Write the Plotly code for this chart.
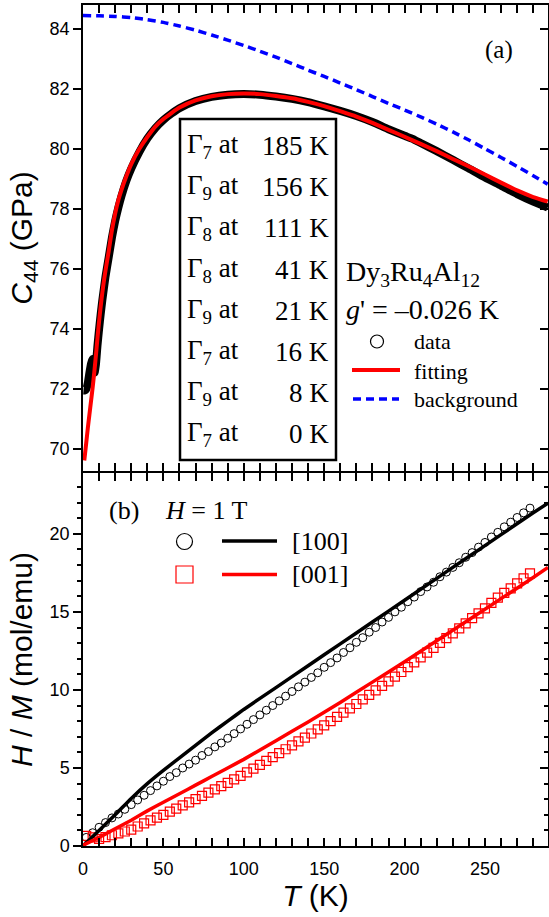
import plotly.graph_objects as go

# ---------------- panel (a): elastic constant C44 of Dy3Ru4Al12 ----------------
t_c44 = [0.3, 1, 2, 3, 4, 5, 5.8, 6.5, 7.2, 8, 9, 10, 11, 12, 14, 16, 18, 20, 22, 24,
         27, 30, 35, 40, 45, 50, 55, 60, 70, 80, 90, 100, 110, 120, 130, 140, 150, 160,
         170, 180, 190, 200, 205, 210, 220, 230, 240, 250, 260, 270, 280, 289]
c44_data = [71.95, 71.95, 72.0, 72.2, 72.55, 72.85, 73.0, 72.7, 72.55, 72.8, 73.45, 74.0,
            74.5, 74.95, 75.75, 76.4, 77.05, 77.6, 78.05, 78.45, 78.95, 79.35, 79.9, 80.35,
            80.7, 80.97, 81.18, 81.36, 81.6, 81.74, 81.81, 81.83, 81.81, 81.75, 81.67, 81.56,
            81.42, 81.27, 81.1, 80.9, 80.66, 80.44, 80.34, 80.2, 79.93, 79.64, 79.35, 79.05,
            78.78, 78.5, 78.25, 78.05]

t_fit = [0.8, 2, 3, 4, 5, 6, 7, 8, 9, 10, 11, 12, 13, 14, 16, 18, 20, 22, 24, 27, 30, 35,
         40, 45, 50, 55, 60, 70, 80, 90, 100, 110, 120, 130, 140, 150, 160, 170, 180, 190,
         200, 210, 220, 230, 240, 250, 260, 270, 280, 289]
c44_fit = [69.62, 70.2, 70.7, 71.15, 71.6, 72.05, 72.55, 73.1, 73.7, 74.25, 74.75, 75.2,
           75.6, 75.95, 76.6, 77.3, 77.85, 78.3, 78.65, 79.1, 79.5, 80.0, 80.4, 80.75, 81.0,
           81.2, 81.38, 81.62, 81.76, 81.83, 81.85, 81.83, 81.77, 81.69, 81.57, 81.43, 81.26,
           81.08, 80.87, 80.64, 80.41, 80.17, 79.93, 79.67, 79.42, 79.15, 78.88, 78.62, 78.4,
           78.25]

t_bg = [0, 10, 20, 30, 40, 50, 60, 70, 80, 90, 100, 110, 120, 130, 140, 150, 160, 170,
        180, 190, 200, 210, 220, 230, 240, 250, 260, 270, 280, 289]
c44_bg = [84.45, 84.44, 84.42, 84.38, 84.31, 84.22, 84.1, 83.96, 83.8, 83.63, 83.45, 83.26,
          83.06, 82.85, 82.63, 82.42, 82.2, 81.98, 81.75, 81.52, 81.3, 81.07, 80.83, 80.57,
          80.3, 80.01, 79.72, 79.42, 79.11, 78.83]

# crystal-field levels listed in the inset box
gamma_irrep = ["7", "9", "8", "8", "9", "7", "9", "7"]
gamma_energy_K = [185, 156, 111, 41, 21, 16, 8, 0]

# ---------------- panel (b): inverse susceptibility H/M at 1 T ----------------
t_mark = [2, 6, 10, 14, 18, 22, 26, 30, 34, 38, 42, 46, 50, 54, 58, 62, 66, 70, 74, 78,
          82, 86, 90, 94, 98, 102, 106, 110, 114, 118, 122, 126, 130, 134, 138, 142, 146,
          150, 154, 158, 162, 166, 170, 174, 178, 182, 186, 190, 194, 198, 202, 206, 210,
          214, 218, 222, 226, 230, 234, 238, 242, 246, 250, 254, 258, 262, 266, 270, 274,
          278]
hm_100 = [0.55, 0.85, 1.2, 1.5, 1.8, 2.05, 2.35, 2.65, 2.95, 3.25, 3.55, 3.85, 4.15, 4.45,
          4.7, 5.0, 5.25, 5.5, 5.8, 6.05, 6.35, 6.6, 6.9, 7.2, 7.5, 7.8, 8.1, 8.4, 8.7, 9.0,
          9.3, 9.6, 9.9, 10.2, 10.5, 10.8, 11.1, 11.45, 11.75, 12.05, 12.4, 12.7, 13.05,
          13.35, 13.7, 14.0, 14.35, 14.65, 15.0, 15.3, 15.65, 15.95, 16.3, 16.6, 16.9, 17.25,
          17.55, 17.85, 18.15, 18.5, 18.8, 19.15, 19.45, 19.8, 20.1, 20.45, 20.75, 21.05,
          21.35, 21.65]
hm_001 = [0.65, 0.55, 0.45, 0.57, 0.69, 0.81, 0.93, 1.05, 1.25, 1.45, 1.64, 1.82, 2.0, 2.2,
          2.4, 2.6, 2.8, 3.0, 3.21, 3.42, 3.63, 3.84, 4.05, 4.27, 4.49, 4.72, 4.96, 5.2,
          5.45, 5.7, 5.95, 6.2, 6.45, 6.7, 6.95, 7.21, 7.47, 7.73, 8.0, 8.27, 8.54, 8.82,
          9.1, 9.39, 9.68, 9.97, 10.26, 10.55, 10.85, 11.15, 11.46, 11.76, 12.08, 12.39,
          12.7, 13.01, 13.32, 13.63, 13.95, 14.27, 14.6, 14.91, 15.23, 15.58, 15.92, 16.22,
          16.51, 16.83, 17.15, 17.47]

t_calc_100 = [0, 5, 10, 20, 30, 40, 50, 60, 70, 80, 90, 100, 120, 140, 160, 180, 200, 220,
              240, 260, 280, 289.2]
hm_calc_100 = [0.0, 0.5, 1.0, 2.0, 3.05, 4.0, 4.85, 5.65, 6.45, 7.25, 8.0, 8.75, 10.15,
               11.55, 12.95, 14.35, 15.75, 17.15, 18.55, 19.95, 21.35, 21.97]
t_calc_001 = [0, 10, 20, 30, 40, 50, 60, 70, 80, 90, 100, 120, 140, 160, 180, 200, 220, 240,
              260, 280, 289.2]
hm_calc_001 = [0.05, 0.55, 1.1, 1.65, 2.25, 2.8, 3.35, 3.9, 4.45, 5.0, 5.55, 6.75, 7.95,
               9.2, 10.5, 11.8, 13.15, 14.5, 15.85, 17.2, 17.85]

# ---------------- page geometry ----------------
W, H = 549, 917
ML, MR, MT, MB = 83, 1, 5, 71
PW, PH = W - ML - MR, H - MT - MB
SANS = "Liberation Sans, Arial, sans-serif"
SERIF = "Liberation Serif, Times New Roman, serif"


def fx(p):
    return (p - ML) / PW


def fy(p):
    return (H - MB - p) / PH


fig = go.Figure()

# panel (a) curves
fig.add_trace(go.Scatter(x=t_c44, y=c44_data, mode="lines", xaxis="x2", yaxis="y2",
                         line=dict(color="black", width=8, shape="spline", smoothing=0.5),
                         showlegend=False, hoverinfo="skip"))
fig.add_trace(go.Scatter(x=t_fit, y=c44_fit, mode="lines", xaxis="x2", yaxis="y2",
                         line=dict(color="#ff0000", width=4, shape="spline", smoothing=0.5),
                         showlegend=False, hoverinfo="skip"))
fig.add_trace(go.Scatter(x=t_bg, y=c44_bg, mode="lines", xaxis="x2", yaxis="y2",
                         line=dict(color="#0000ff", width=3.5, dash="8px,5px",
                                   shape="spline", smoothing=0.5),
                         showlegend=False, hoverinfo="skip"))

# panel (b) measured points
fig.add_trace(go.Scatter(x=t_mark, y=hm_100, mode="markers", xaxis="x", yaxis="y",
                         marker=dict(symbol="circle-open", size=8, color="black",
                                     line=dict(width=1)),
                         showlegend=False, hoverinfo="skip"))
fig.add_trace(go.Scatter(x=t_mark, y=hm_001, mode="markers", xaxis="x", yaxis="y",
                         marker=dict(symbol="square-open", size=9, color="#ff0000",
                                     line=dict(width=1.2)),
                         showlegend=False, hoverinfo="skip"))
# panel (b) calculated curves
fig.add_trace(go.Scatter(x=t_calc_100, y=hm_calc_100, mode="lines", xaxis="x", yaxis="y",
                         line=dict(color="black", width=3.5, shape="spline", smoothing=0.4),
                         showlegend=False, hoverinfo="skip"))
fig.add_trace(go.Scatter(x=t_calc_001, y=hm_calc_001, mode="lines", xaxis="x", yaxis="y",
                         line=dict(color="#ff0000", width=3.5, shape="spline", smoothing=0.4),
                         showlegend=False, hoverinfo="skip"))

# empty traces so the right-hand frame axes are instantiated
fig.add_trace(go.Scatter(x=[], y=[], xaxis="x", yaxis="y3", showlegend=False))
fig.add_trace(go.Scatter(x=[], y=[], xaxis="x2", yaxis="y4", showlegend=False))

bottom_dom = [0, (H - MB - 473) / PH]
top_dom = [(H - MB - 471) / PH, 1]
x_range = [0, 289.2]
ya_range = [69.27, 84.8]
yb_range = [0, 23.9]

axis_common = dict(showline=True, linecolor="black", linewidth=1.5, tickcolor="black",
                   tickwidth=1.5, showgrid=False, zeroline=False,
                   tickfont=dict(family=SANS, size=18, color="black"))

xaxis_common = dict(axis_common, range=x_range, ticks="inside", ticklen=8, dtick=50,
                    mirror="allticks",
                    minor=dict(dtick=10, ticks="inside", ticklen=4, tickwidth=1.5,
                               tickcolor="black", showgrid=False))

fig.update_layout(
    width=W, height=H,
    margin=dict(l=ML, r=MR, t=MT, b=MB),
    paper_bgcolor="white", plot_bgcolor="white",
    showlegend=False,
    xaxis=dict(xaxis_common, domain=[0, 1], anchor="y",
               ticklabelstandoff=6,
               title=dict(text="<i>T</i> (K)", font=dict(family=SANS, size=30, color="black"),
                          standoff=2)),
    xaxis2=dict(xaxis_common, domain=[0, 1], anchor="y2", matches="x",
                showticklabels=False),
    yaxis=dict(axis_common, domain=bottom_dom, anchor="x", range=yb_range,
               ticks="outside", ticklen=8, dtick=5,
               minor=dict(dtick=1, ticks="outside", ticklen=4, tickwidth=1.5,
                          tickcolor="black", showgrid=False),
               title=dict(text="<i>H</i> / <i>M</i> (mol/emu)",
                          font=dict(family=SANS, size=30, color="black"), standoff=8)),
    yaxis2=dict(axis_common, domain=top_dom, anchor="x2", range=ya_range,
                ticks="outside", ticklen=8, dtick=2,
                title=dict(text="<i>C</i><sub>44</sub> (GPa)",
                           font=dict(family=SANS, size=30, color="black"), standoff=8)),
    yaxis3=dict(axis_common, overlaying="y", side="right", anchor="x", range=yb_range,
                ticks="inside", ticklen=8, dtick=5, showticklabels=False,
                minor=dict(dtick=1, ticks="inside", ticklen=4, tickwidth=1.5,
                           tickcolor="black", showgrid=False)),
    yaxis4=dict(axis_common, overlaying="y2", side="right", anchor="x2", range=ya_range,
                ticks="inside", ticklen=8, dtick=2, showticklabels=False),
)

shapes = []
annotations = []


def text(s, x, y, size, anchor="left", family=SERIF):
    annotations.append(dict(text=s, x=fx(x), y=fy(y), xref="paper", yref="paper",
                            xanchor=anchor, yanchor="middle", showarrow=False,
                            font=dict(family=family, size=size, color="black")))


# panel labels
text("(a)", 499, 50, 25, anchor="center")
text("(b)", 107, 510, 26)
text("<i>H</i> = 1 T", 163, 510, 26)

# crystal-field level box
shapes.append(dict(type="rect", xref="paper", yref="paper", x0=fx(180), x1=fx(336),
                   y0=fy(460), y1=fy(119), line=dict(color="black", width=2.5)))
for i, (g, e) in enumerate(zip(gamma_irrep, gamma_energy_K)):
    yc = 146 + i * 41.2
    text("Γ<sub>%s</sub> at" % g, 185, yc, 27)
    text("%d K" % e, 331, yc, 27, anchor="right")

# compound / coupling text and key for panel (a)
text("Dy<sub>3</sub>Ru<sub>4</sub>Al<sub>12</sub>", 344, 274, 28)
text("<i>g</i>' = –0.026 K", 344, 309, 28)
shapes.append(dict(type="circle", xref="paper", yref="paper", x0=fx(370.5), x1=fx(383.5),
                   y0=fy(348), y1=fy(335), line=dict(color="black", width=1.2)))
shapes.append(dict(type="line", xref="paper", yref="paper", x0=fx(352), x1=fx(400),
                   y0=fy(370), y1=fy(370), line=dict(color="#ff0000", width=4)))
shapes.append(dict(type="line", xref="paper", yref="paper", x0=fx(353), x1=fx(399),
                   y0=fy(399), y1=fy(399),
                   line=dict(color="#0000ff", width=3.5, dash="8px,5px")))
text("data", 412, 341, 22)
text("fitting", 412, 371, 22)
text("background", 412, 400, 22)

# key for panel (b)
shapes.append(dict(type="circle", xref="paper", yref="paper", x0=fx(176.5), x1=fx(192.5),
                   y0=fy(549.5), y1=fy(533.5), line=dict(color="black", width=1.2)))
shapes.append(dict(type="rect", xref="paper", yref="paper", x0=fx(176), x1=fx(193),
                   y0=fy(583), y1=fy(566), line=dict(color="#ff0000", width=1.2)))
shapes.append(dict(type="line", xref="paper", yref="paper", x0=fx(222), x1=fx(277),
                   y0=fy(541), y1=fy(541), line=dict(color="black", width=3.5)))
shapes.append(dict(type="line", xref="paper", yref="paper", x0=fx(222), x1=fx(277),
                   y0=fy(574.5), y1=fy(574.5), line=dict(color="#ff0000", width=3.5)))
text("[100]", 290, 541, 26)
text("[001]", 290, 574.5, 26)

fig.update_layout(shapes=shapes, annotations=annotations)
fig.write_html("out.html")
